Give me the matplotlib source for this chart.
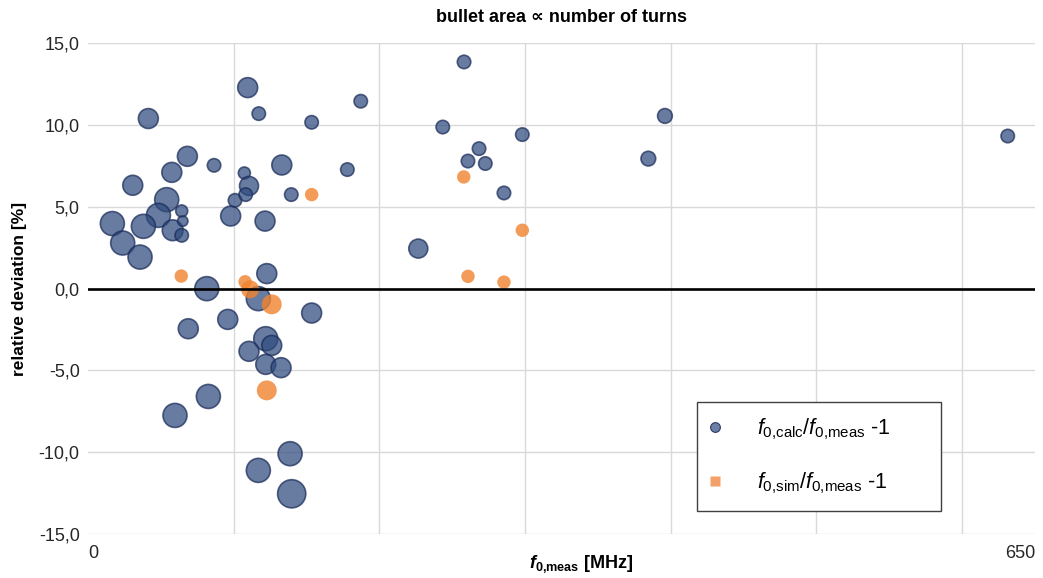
import matplotlib
matplotlib.use("Agg")
import matplotlib.pyplot as plt
from matplotlib.lines import Line2D

plt.rcParams["font.family"] = ["Liberation Sans", "DejaVu Sans"]
plt.rcParams["mathtext.fontset"] = "custom"
plt.rcParams["mathtext.rm"] = "Liberation Sans"
plt.rcParams["mathtext.it"] = "Liberation Sans:italic"
plt.rcParams["mathtext.bf"] = "Liberation Sans:bold"
plt.rcParams["mathtext.bfit"] = "Liberation Sans:italic:bold"

# measured resonance frequency [MHz], relative deviation [%], number of turns
calc_f = [41.4, 68.2, 86.5, 57.5, 30.7, 54.0, 48.3, 64.3, 16.7, 38.0,
          58.1, 65.0, 64.3, 23.8, 35.7, 81.5, 97.9, 100.9, 109.6, 117.2,
          153.5, 133.0, 107.3, 110.5, 108.2, 139.5, 121.5, 122.7, 116.9, 153.5,
          95.9, 68.8, 122.0, 126.1, 110.5, 122.0, 132.5, 82.6, 59.7, 138.7,
          116.9, 139.8, 258.1, 243.5, 298.1, 268.4, 260.8, 272.7, 285.5, 226.7,
          187.2, 178.0, 396.0, 384.6, 631.3]
calc_dev = [10.40, 8.09, 7.54, 7.11, 6.32, 5.44, 4.48, 4.75, 3.98, 3.81,
            3.57, 4.13, 3.26, 2.79, 1.93, 0.00, 4.44, 5.40, 12.29, 10.70,
            10.17, 7.56, 7.07, 6.28, 5.75, 5.75, 4.13, 0.92, -0.61, -1.49,
            -1.88, -2.45, -3.06, -3.47, -3.83, -4.63, -4.83, -6.59, -7.75, -10.09,
            -11.11, -12.54, 13.86, 9.88, 9.42, 8.56, 7.80, 7.65, 5.85, 2.45,
            11.46, 7.28, 10.56, 7.95, 9.33]
calc_turns = [11, 11, 5, 11, 11, 16, 16, 4, 16, 16,
              12, 3, 5, 16, 16, 16, 11, 5, 11, 5,
              5, 11, 4, 10, 5, 5, 11, 11, 16, 11,
              11, 11, 16, 11, 11, 11, 11, 16, 16, 16,
              16, 22, 5, 5, 5, 5, 5, 5, 5, 10,
              5, 5, 6, 6, 5]

sim_f = [153.5, 64.0, 107.8, 111.2, 126.1, 122.7, 257.9, 298.1, 260.8, 285.5]
sim_dev = [5.75, 0.77, 0.42, -0.04, -0.96, -6.22, 6.83, 3.57, 0.75, 0.40]
sim_turns = [5, 5, 5, 9, 11, 11, 5, 5, 5, 5]

x_ticks = [0, 650]
x_grid = [100, 200, 300, 400, 500, 600]
y_ticks = [-15, -10, -5, 0, 5, 10, 15]

SIZE_PER_TURN = 18.7

fig = plt.figure(figsize=(10.43, 5.78), dpi=100)
ax = fig.add_axes([0.0844, 0.0761, 0.9079, 0.849])

ax.scatter(calc_f, calc_dev, s=[t * SIZE_PER_TURN for t in calc_turns],
           facecolor="#2e4a7d", alpha=0.72, edgecolor="#1a2b58",
           linewidth=1.2, zorder=3)
ax.scatter(sim_f, sim_dev, s=[t * SIZE_PER_TURN for t in sim_turns],
           facecolor="#f0842f", alpha=0.8, edgecolor="none", zorder=4)

ax.axhline(0, color="black", linewidth=1.9, zorder=5)

ax.set_xlim(0, 650)
ax.set_ylim(-15, 15)
ax.set_yticks(y_ticks)
ax.set_yticklabels([f"{v:.1f}".replace(".", ",") for v in y_ticks])
ax.set_xticks(x_ticks)
ax.set_xticklabels([str(v) for v in x_ticks])
for lbl, ha in zip(ax.get_xticklabels(), ["left", "right"]):
    lbl.set_ha(ha)
ax.set_xticks(x_grid, minor=True)
ax.tick_params(axis="both", which="both", length=0, labelsize=13,
               labelcolor="#262626")
ax.tick_params(axis="x", pad=8)
ax.tick_params(axis="y", pad=6)

ax.grid(True, which="major", axis="y", color="#d9d9d9", linewidth=1.0, zorder=0)
ax.grid(True, which="minor", axis="x", color="#d9d9d9", linewidth=1.0, zorder=0)
ax.set_axisbelow(True)
for sp in ax.spines.values():
    sp.set_visible(False)

ax.set_title("bullet area \u221d number of turns", fontsize=13,
             fontweight="bold", pad=15)
ax.set_ylabel("relative deviation [%]", fontsize=12.5, fontweight="bold",
              labelpad=8.5)
fig.text(581 / 1043, 1 - 564 / 578,
         r"$\mathbfit{f}_{\mathbf{0{,}meas}}$ [MHz]", fontsize=13,
         fontweight="bold", ha="center", va="center")

handles = [
    Line2D([], [], linestyle="none", marker="o", markersize=7,
           markerfacecolor="#6c7ea3", markeredgecolor="#2a3a66",
           markeredgewidth=0.8),
    Line2D([], [], linestyle="none", marker="s", markersize=6.5,
           markerfacecolor="#f4a06b", markeredgecolor="none"),
]
labels = [r"$f_{0{,}\mathrm{calc}}/f_{0{,}\mathrm{meas}}$ -1",
          r"$f_{0{,}\mathrm{sim}}/f_{0{,}\mathrm{meas}}$ -1"]
leg = ax.legend(handles, labels, loc="lower left",
                bbox_to_anchor=(0.643, 0.047, 0.258, 0.22), mode="expand",
                fontsize=15.5, frameon=True, fancybox=False, framealpha=1,
                edgecolor="#404040", borderpad=0.7, handlelength=0.3,
                handletextpad=1.78, labelspacing=1.3, borderaxespad=0)
leg.get_frame().set_linewidth(1.0)
leg.set_zorder(6)

fig.savefig("out.png", dpi=100)
